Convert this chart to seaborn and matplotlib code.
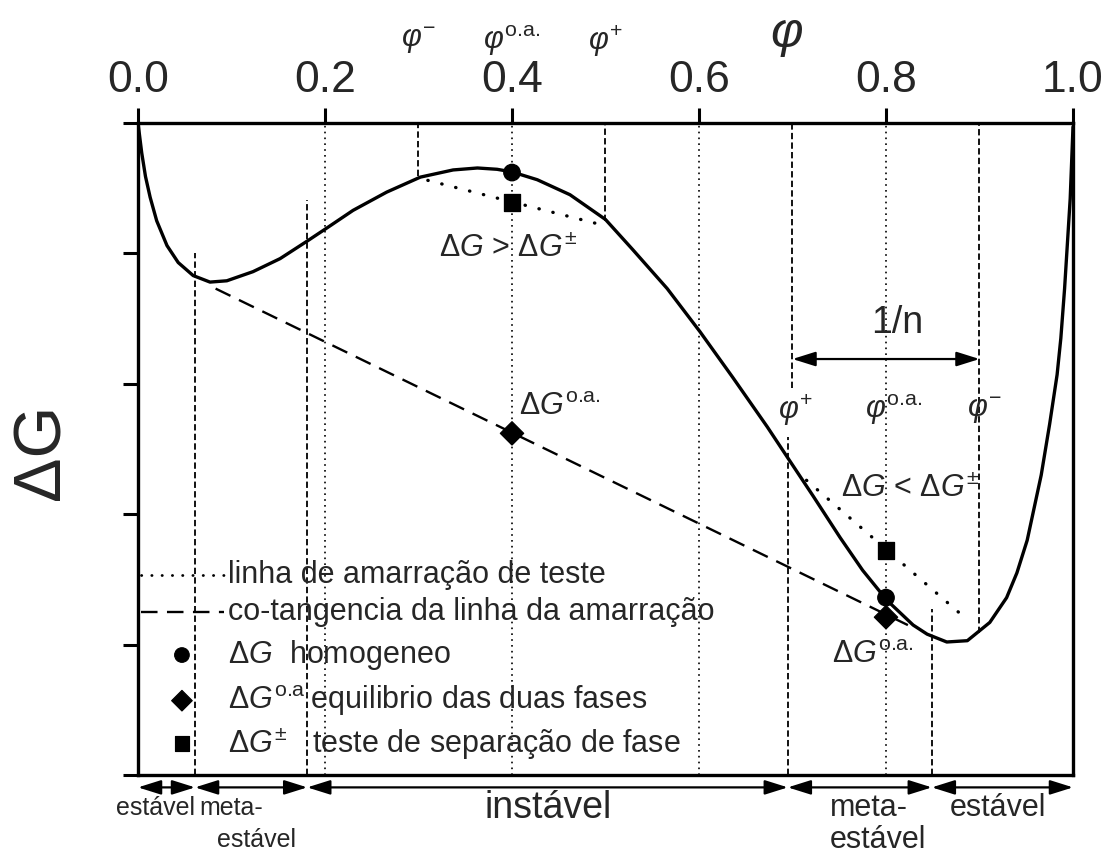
import numpy as np
import pandas as pd
import matplotlib
matplotlib.use("Agg")
import matplotlib.pyplot as plt
import seaborn as sns

# ---------------- data ----------------
phi_curve = [0.000, 0.004, 0.008, 0.013, 0.020, 0.031, 0.043, 0.059, 0.077, 0.095,
             0.123, 0.152, 0.180, 0.201, 0.230, 0.266, 0.302, 0.337, 0.363, 0.384,
             0.400, 0.427, 0.462, 0.500, 0.529, 0.566, 0.601, 0.636, 0.673, 0.697,
             0.722, 0.751, 0.775, 0.801, 0.829, 0.844, 0.865, 0.887, 0.911, 0.929,
             0.940, 0.951, 0.966, 0.975, 0.983, 0.987, 0.991, 0.997, 1.000]
dg_curve = [5.00, 4.77, 4.59, 4.43, 4.25, 4.06, 3.93, 3.83, 3.78, 3.79,
            3.86, 3.96, 4.09, 4.19, 4.33, 4.47, 4.585, 4.64, 4.655, 4.645,
            4.625, 4.565, 4.45, 4.26, 4.03, 3.73, 3.40, 3.05, 2.67, 2.41,
            2.14, 1.82, 1.57, 1.34, 1.15, 1.08, 1.02, 1.03, 1.17, 1.36,
            1.55, 1.80, 2.30, 2.69, 3.07, 3.35, 3.73, 4.42, 4.97]

marker_phi = [0.4, 0.8]
dg_homogeneo = [4.62, 1.36]
dg_oa = [2.62, 1.21]
dg_teste = [4.39, 1.72]

cotan_phi = [0.083, 0.829]
cotan_dg = [3.73, 1.13]
tie_top_phi = [0.31, 0.49]
tie_top_dg = [4.56, 4.23]
tie_bot_phi = [0.715, 0.887]
tie_bot_dg = [2.26, 1.19]

dotted_vlines = [0.2, 0.4, 0.6, 0.8]
dashed_vx = [0.3, 0.5, 0.7, 0.9, 0.061, 0.181, 0.695, 0.849]
dashed_vlo = [4.59, 4.25, 2.97, 1.09, 0.0, 0.0, 0.0, 0.0]
dashed_vhi = [5.0, 5.0, 5.0, 5.0, 4.00, 4.41, 2.59, 1.27]

region_bounds = [0.0, 0.061, 0.181, 0.695, 0.849, 1.0]
xtick_vals = [0.0, 0.2, 0.4, 0.6, 0.8, 1.0]
xtick_labels = ["0.0", "0.2", "0.4", "0.6", "0.8", "1.0"]
ytick_vals = [0, 1, 2, 3, 4, 5]

legend_texts = ["linha de amarração de teste",
                "co-tangencia da linha da amarração",
                r"$\Delta G$  homogeneo",
                r"$\Delta G^{\text{o.a.}}$equilibrio das duas fases",
                r"$\Delta G^{\pm}$   teste de separação de fase"]

# ---------------- style ----------------
sns.set_style("white")
plt.rcParams["font.family"] = ["Liberation Sans", "DejaVu Sans"]
plt.rcParams["mathtext.fontset"] = "custom"
plt.rcParams["mathtext.rm"] = "Liberation Sans"
plt.rcParams["mathtext.it"] = "Liberation Sans:italic"
plt.rcParams["mathtext.bf"] = "Liberation Sans:bold"

fig = plt.figure(figsize=(11.1, 8.55), dpi=100)
ax = fig.add_axes([138 / 1110, 1 - 775 / 855, 935 / 1110, 652 / 855])

df = pd.DataFrame({"phi": phi_curve, "dG": dg_curve})
sns.lineplot(data=df, x="phi", y="dG", ax=ax, color="black", lw=2.4,
             sort=False, zorder=5)

# vertical guide lines
ax.vlines(dotted_vlines, 0, 5, colors="black", lw=1.2, linestyles=(0, (1, 2.5)), zorder=2)
for x, lo, hi in zip(dashed_vx, dashed_vlo, dashed_vhi):
    ax.plot([x, x], [lo, hi], color="black", lw=1.3, dashes=(3.5, 1.8), zorder=2)

# co-tangent line and test tie lines
ax.plot(cotan_phi, cotan_dg, color="black", lw=1.7, dashes=(7, 4), zorder=3)
for px, py in [(tie_top_phi, tie_top_dg), (tie_bot_phi, tie_bot_dg)]:
    ax.plot(px, py, color="black", lw=2.4, dashes=(0.1, 4.2),
            dash_capstyle="round", zorder=3)

# markers
mk = pd.DataFrame({"phi": marker_phi * 3,
                   "dG": dg_homogeneo + dg_oa + dg_teste,
                   "kind": ["h"] * 2 + ["oa"] * 2 + ["t"] * 2})
sns.scatterplot(data=mk, x="phi", y="dG", style="kind",
                markers={"h": "o", "oa": "D", "t": "s"}, s=140,
                color="black", edgecolor="black", legend=False, ax=ax, zorder=6)

# legend drawn by hand
ax.plot([0.003, 0.092], [1.53, 1.53], color="black", lw=2.0, dashes=(0.1, 3.6),
        dash_capstyle="round", zorder=4)
ax.plot([0.003, 0.092], [1.25, 1.25], color="black", lw=1.7, dashes=(7, 4), zorder=4)
leg_mk = pd.DataFrame({"phi": [0.047, 0.047, 0.047], "dG": [0.92, 0.57, 0.24],
                       "kind": ["h", "oa", "t"]})
sns.scatterplot(data=leg_mk, x="phi", y="dG", style="kind",
                markers={"h": "o", "oa": "D", "t": "s"}, s=110,
                color="black", edgecolor="black", legend=False, ax=ax, zorder=6)
leg_y = [1.53, 1.25, 0.92, 0.57, 0.24]
for t, y in zip(legend_texts, leg_y):
    ax.text(0.096, y, t, fontsize=22, va="center", ha="left", zorder=7)

# annotations in the plot
ax.text(0.396, 4.03, r"$\Delta G$ > $\Delta G^{\pm}$", fontsize=22, ha="center", va="center")
ax.text(0.408, 2.82, r"$\Delta G^{\text{o.a.}}$", fontsize=22, ha="left", va="center")
ax.text(0.826, 2.19, r"$\Delta G$ < $\Delta G^{\pm}$", fontsize=22, ha="center", va="center")
ax.text(0.742, 0.92, r"$\Delta G^{\text{o.a.}}$", fontsize=22, ha="left", va="center")
ax.text(0.703, 2.80, r"$\varphi^{+}$", fontsize=22, ha="center", va="center")
ax.text(0.808, 2.80, r"$\varphi^{\text{o.a.}}$", fontsize=22, ha="center", va="center")
ax.text(0.905, 2.80, r"$\varphi^{-}$", fontsize=22, ha="center", va="center")
ax.text(0.812, 3.47, "1/n", fontsize=27, ha="center", va="center")
ax.annotate("", xy=(0.9, 3.19), xytext=(0.7, 3.19),
            arrowprops=dict(arrowstyle="<|-|>,head_length=0.7,head_width=0.22",
                            color="black", lw=1.6, mutation_scale=20,
                            shrinkA=0, shrinkB=0))

# labels above the top axis
for x, lab in [(0.3, r"$\varphi^{-}$"), (0.4, r"$\varphi^{\text{o.a.}}$"), (0.5, r"$\varphi^{+}$")]:
    ax.text(x, 5.63, lab, fontsize=22, ha="center", va="center", clip_on=False)
ax.text(0.694, 5.67, r"$\varphi$", fontsize=36, ha="center", va="center", clip_on=False)

# stability regions below the axis
for a, b in zip(region_bounds[:-1], region_bounds[1:]):
    ax.annotate("", xy=(b, -0.095), xytext=(a, -0.095), annotation_clip=False,
                arrowprops=dict(arrowstyle="<|-|>,head_length=0.7,head_width=0.22",
                                color="black", lw=1.6, mutation_scale=20,
                                shrinkA=0, shrinkB=0))
ax.text(0.019, -0.25, "estável", fontsize=18, ha="center", va="center", clip_on=False)
ax.text(0.066, -0.25, "meta-", fontsize=18, ha="left", va="center", clip_on=False)
ax.text(0.085, -0.50, "estável", fontsize=18, ha="left", va="center", clip_on=False)
ax.text(0.4385, -0.25, "instável", fontsize=27, ha="center", va="center", clip_on=False)
ax.text(0.740, -0.25, "meta-", fontsize=22, ha="left", va="center", clip_on=False)
ax.text(0.740, -0.50, "estável", fontsize=22, ha="left", va="center", clip_on=False)
ax.text(0.868, -0.25, "estável", fontsize=22, ha="left", va="center", clip_on=False)

# axes
ax.set_xlim(0, 1)
ax.set_ylim(0, 5)
ax.xaxis.tick_top()
ax.set_xticks(xtick_vals)
ax.set_xticklabels(xtick_labels)
ax.set_yticks(ytick_vals)
ax.set_yticklabels([])
ax.tick_params(axis="x", which="both", top=True, bottom=False, labeltop=True,
               labelbottom=False, direction="out", length=11, width=2.2,
               labelsize=32, pad=5, color="black")
ax.tick_params(axis="y", left=True, right=False, direction="out", length=11,
               width=2.2, color="black")
ax.set_xlabel("")
ax.set_ylabel("")
for s in ax.spines.values():
    s.set_visible(True)
    s.set_color("black")
    s.set_linewidth(2.4)

fig.text(42 / 1110, 1 - 452 / 855, "ΔG", fontsize=48, rotation=90,
         ha="center", va="center")

fig.savefig("out.png", dpi=100, facecolor="white")
